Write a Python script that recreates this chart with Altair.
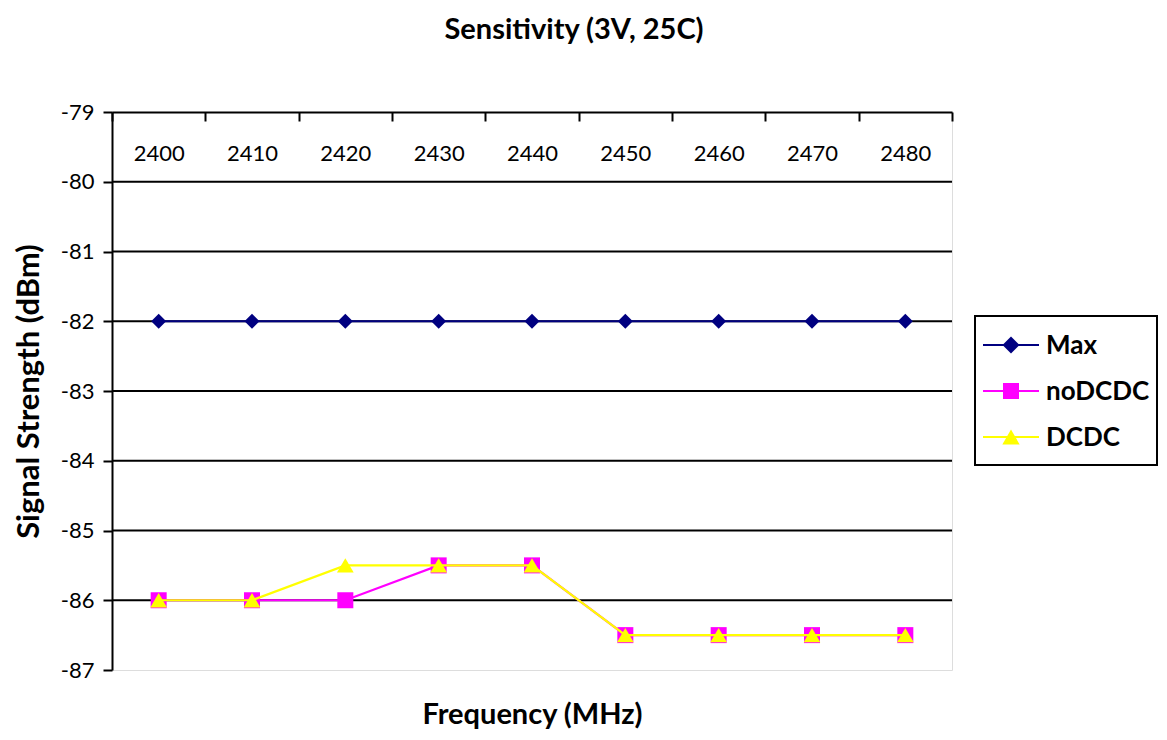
import altair as alt
import pandas as pd

frequencies = ["2400", "2410", "2420", "2430", "2440", "2450", "2460", "2470", "2480"]
max_vals = [-82, -82, -82, -82, -82, -82, -82, -82, -82]
nodcdc_vals = [-86, -86, -86, -85.5, -85.5, -86.5, -86.5, -86.5, -86.5]
dcdc_vals = [-86, -86, -85.5, -85.5, -85.5, -86.5, -86.5, -86.5, -86.5]
series_names = ["Max", "noDCDC", "DCDC"]
series_colors = ["#000080", "#FF00FF", "#FFFF00"]
series_shapes = ["diamond", "square", "triangle-up"]
series_sizes = [225, 256, 280]
y_ticks = [-79, -80, -81, -82, -83, -84, -85, -86, -87]
grid_vals = [-80, -81, -82, -83, -84, -85, -86]

FONT = "Lato"
W, H = 840, 558

rows = []
for name, vals in zip(series_names, [max_vals, nodcdc_vals, dcdc_vals]):
    for f, v in zip(frequencies, vals):
        rows.append({"freq": f, "value": v, "series": name})
df = pd.DataFrame(rows)

x_enc = alt.X(
    "freq:O",
    sort=frequencies,
    scale=alt.Scale(type="band", paddingInner=0, paddingOuter=0, domain=frequencies),
    axis=alt.Axis(
        orient="bottom",
        offset=-H,
        title="Frequency (MHz)",
        titleY=602,
        titleBaseline="middle",
        titleFont=FONT,
        titleFontSize=29,
        titleFontWeight="bold",
        titleColor="black",
        labelAngle=0,
        labelFont=FONT,
        labelFontSize=22,
        labelColor="black",
        labelPadding=22,
        tickBand="extent",
        tickSize=9,
        tickColor="black",
        tickWidth=2,
        domainColor="black",
        domainWidth=2,
        grid=False,
    ),
)
y_scale = alt.Scale(domain=[-87, -79], nice=False, zero=False)
y_axis = alt.Axis(
    values=y_ticks,
    labelExpr="'' + datum.value",
    title="Signal Strength (dBm)",
    titleFont=FONT,
    titleFontSize=31,
    titleFontWeight="bold",
    titleColor="black",
    titlePadding=15,
    labelFont=FONT,
    labelFontSize=22,
    labelColor="black",
    labelPadding=9,
    tickSize=9,
    tickColor="black",
    tickWidth=2,
    domainColor="black",
    domainWidth=2,
    grid=False,
)

grid = alt.Chart(pd.DataFrame({"g": grid_vals})).mark_rule(color="black", strokeWidth=2).encode(
    y=alt.Y("g:Q", scale=y_scale, axis=y_axis)
)

layers = [grid]
for name, color, shape, size in zip(series_names, series_colors, series_shapes, series_sizes):
    sub = df[df["series"] == name]
    base = alt.Chart(sub)
    y_enc = alt.Y("value:Q", scale=y_scale, axis=y_axis)
    layers.append(base.mark_line(color=color, strokeWidth=2.2).encode(x=x_enc, y=y_enc))
    layers.append(
        base.mark_point(shape=shape, filled=True, color=color, size=size, opacity=1).encode(x=x_enc, y=y_enc)
    )

# legend (manual, positioned in pixel space to the right of the plot)
one = pd.DataFrame({"a": [0]})
lx0, lx1, ly0, ly1 = 863, 1045, 204, 353
layers.append(
    alt.Chart(one).mark_rect(fill="white", stroke="black", strokeWidth=2).encode(
        x=alt.value(lx0), x2=alt.value(lx1), y=alt.value(ly0), y2=alt.value(ly1)
    )
)
entry_y = [233, 279, 325]
legend_sizes = [289, 256, 300]
for name, color, shape, size, ey in zip(series_names, series_colors, series_shapes, legend_sizes, entry_y):
    leg = alt.Chart(pd.DataFrame({"series": [name]}))
    layers.append(
        leg.mark_rule(color=color, strokeWidth=2.2).encode(
            x=alt.value(871), x2=alt.value(927), y=alt.value(ey)
        )
    )
    layers.append(
        leg.mark_point(shape=shape, filled=True, color=color, size=size, opacity=1).encode(
            x=alt.value(899), y=alt.value(ey)
        )
    )
    layers.append(
        leg.mark_text(
            align="left", baseline="middle", font=FONT, fontSize=26, fontWeight="bold", color="black"
        ).encode(x=alt.value(934), y=alt.value(ey + 1), text="series:N")
    )

chart = (
    alt.layer(*layers)
    .properties(
        width=W,
        height=H,
        autosize=alt.AutoSizeParams(type="none"),
        padding={"left": 104, "top": 104, "right": 206, "bottom": 61},
        title=alt.TitleParams(
            "Sensitivity (3V, 25C)",
            font=FONT,
            fontSize=29,
            fontWeight="bold",
            color="black",
            anchor="middle",
            frame="group",
            dx=42,
            offset=56,
        ),
    )
    .configure_view(stroke="#808080", strokeWidth=2)
    .configure(background="white")
)

chart.save("out.html", embed_options={"renderer": "svg", "actions": False})
